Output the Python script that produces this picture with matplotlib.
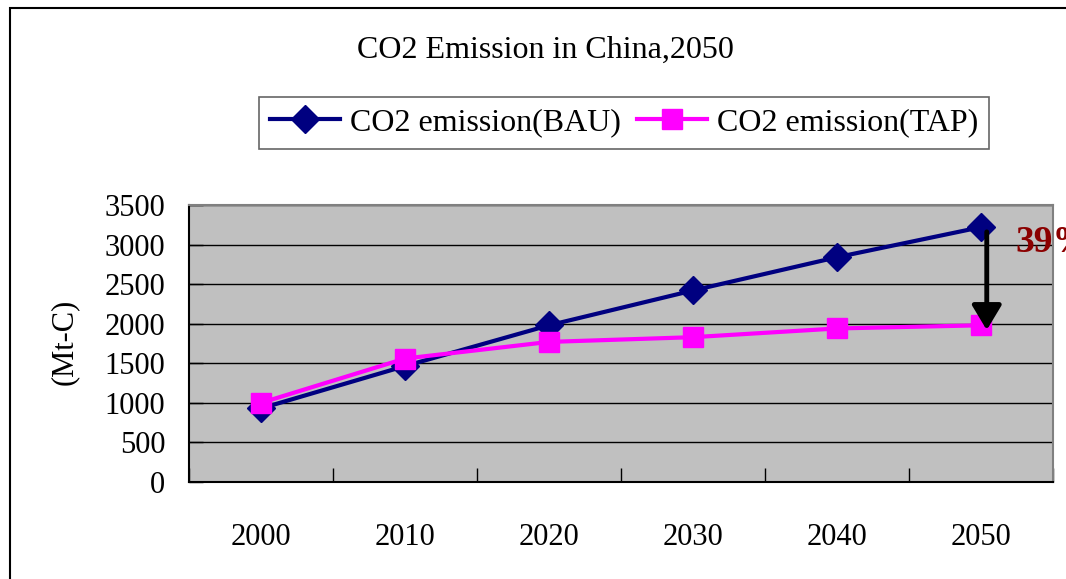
import matplotlib
matplotlib.use("Agg")
import matplotlib.pyplot as plt
from matplotlib.patches import Rectangle

years = ["2000", "2010", "2020", "2030", "2040", "2050"]
bau = [930, 1465, 1980, 2420, 2840, 3220]
tap = [1000, 1560, 1770, 1830, 1940, 1980]
yticks = [0, 500, 1000, 1500, 2000, 2500, 3000, 3500]
reduction_label = "39%"

plt.rcParams["font.family"] = ["Liberation Serif", "DejaVu Serif"]

W, H = 1066, 579
fig = plt.figure(figsize=(W / 100, H / 100), dpi=100)

# outer chart frame (left and top edges visible)
fig.patches.append(Rectangle((10 / W, -0.1), 1.2, 1 - 8 / H + 0.1, transform=fig.transFigure,
                             fill=False, edgecolor="black", linewidth=1.5))

ax = fig.add_axes([189 / W, 1 - 482 / H, (1053 - 189) / W, (482 - 205) / H])
ax.set_facecolor("#C0C0C0")

x = list(range(len(years)))
ax.plot(x, bau, color="#000080", linewidth=3, marker="D", markersize=14,
        label="CO2 emission(BAU)", zorder=3)
ax.plot(x, tap, color="#FF00FF", linewidth=3, marker="s", markersize=14.5,
        label="CO2 emission(TAP)", zorder=4)

ax.set_xlim(-0.5, len(years) - 0.5)
ax.set_ylim(0, 3500)
ax.set_yticks(yticks)
ax.set_yticklabels([str(v) for v in yticks], fontsize=22)
ax.set_xticks([i - 0.5 for i in range(len(years) + 1)])
ax.set_xticklabels([])
ax.set_xticks(x, minor=True)
ax.set_xticklabels(years, minor=True, fontsize=22)
ax.tick_params(axis="x", which="minor", length=0, pad=29.5)
ax.tick_params(axis="x", which="major", direction="in", length=10, width=1, color="black")
ax.tick_params(axis="y", direction="in", length=10, width=1, pad=17)

ax.yaxis.grid(True, color="black", linewidth=1)
ax.set_axisbelow(True)
for s in ("top", "right"):
    ax.spines[s].set_color("#808080")
    ax.spines[s].set_linewidth(1.5)
for s in ("left", "bottom"):
    ax.spines[s].set_color("black")
    ax.spines[s].set_linewidth(1.5)

ax.set_ylabel("(Mt-C)", fontsize=22)
ax.yaxis.set_label_coords((79 - 189) / (1053 - 189), (482 - 342) / (482 - 205))

# reduction arrow between the two 2050 values
ax.annotate("", xy=(5.04, tap[-1] - 60), xytext=(5.04, bau[-1] - 60),
            arrowprops=dict(arrowstyle="-|>,head_length=1.5,head_width=0.9",
                            color="black", linewidth=3.5, shrinkA=0, shrinkB=0),
            zorder=5)
ax.text(5.24, 3030, reduction_label, color="#8B0000", fontsize=27, fontweight="bold",
        ha="left", va="center", clip_on=False)

fig.text(545 / W, 1 - 50 / H, "CO2 Emission in China,2050", ha="center", va="center",
         fontsize=23)

leg = fig.legend(loc="center", bbox_to_anchor=(624 / W, 1 - 123 / H), ncol=2,
                 fontsize=23, frameon=True, fancybox=False, edgecolor="#404040",
                 handlelength=2.2, columnspacing=0.5, handletextpad=0.3,
                 borderpad=0.35)
leg.get_frame().set_linewidth(1.2)

fig.savefig("out.png", dpi=100)
